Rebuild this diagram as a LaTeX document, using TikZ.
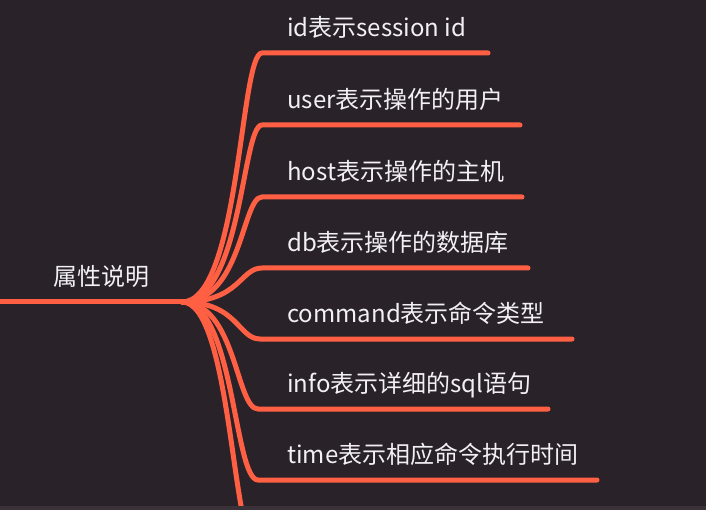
\documentclass[tikz,border=0pt]{standalone}
\usepackage{fontspec}
\setmainfont{Noto Sans CJK SC}
\definecolor{bgcol}{HTML}{2A2229}
\definecolor{linecol}{HTML}{FF6043}
\definecolor{txtcol}{HTML}{F2F0F2}
\definecolor{stripcol}{HTML}{3A3238}
\tikzset{
  branch/.style={draw=linecol, line width=5pt, line cap=round},
  lbl/.style={text=txtcol, font=\fontsize{24}{28}\selectfont, inner sep=0pt, anchor=base west},
}
\begin{document}
\begin{tikzpicture}[x=1pt,y=-1pt]
\fill[bgcol] (0,0) rectangle (706,510);
\useasboundingbox (0,0) rectangle (706,510);
\begin{scope}
\clip (0,0) rectangle (706,510);
% root
\node[lbl] (root) at (53,285.5) {属性说明};
\coordinate (start) at (-5,302);
\coordinate (hub) at (182,302);
% branch corners and ends
\coordinate (c1) at (262,53);  \coordinate (e1) at (488,53);
\coordinate (c2) at (262,125); \coordinate (e2) at (520,125);
\coordinate (c3) at (262,197); \coordinate (e3) at (522,197);
\coordinate (c4) at (262,268); \coordinate (e4) at (528,268);
\coordinate (c5) at (260,339); \coordinate (e5) at (572,339);
\coordinate (c6) at (258,409); \coordinate (e6) at (548,409);
\coordinate (c7) at (258,480); \coordinate (e7) at (597,480);
\coordinate (c8) at (258,551); \coordinate (e8) at (600,551);
% texts
\node[lbl] (t1) at (287,36.5)  {id表示session id};
\node[lbl] (t2) at (287,108.5) {user表示操作的用户};
\node[lbl] (t3) at (287,180.5) {host表示操作的主机};
\node[lbl] (t4) at (287,251.5) {db表示操作的数据库};
\node[lbl] (t5) at (287,322.5) {command表示命令类型};
\node[lbl] (t6) at (287,392.5) {info表示详细的sql语句};
\node[lbl] (t7) at (287,463.5) {time表示相应命令执行时间};
% connectors
\draw[branch] (start) -- (hub);
\draw[branch] (hub) .. controls (240,302) and (240,53)  .. (c1) -- (e1);
\draw[branch] (hub) .. controls (242,302) and (242,125) .. (c2) -- (e2);
\draw[branch] (hub) .. controls (242,302) and (242,197) .. (c3) -- (e3);
\draw[branch] (hub) .. controls (240,302) and (240,268) .. (c4) -- (e4);
\draw[branch] (hub) .. controls (238,302) and (238,339) .. (c5) -- (e5);
\draw[branch] (hub) .. controls (236,302) and (236,409) .. (c6) -- (e6);
\draw[branch] (hub) .. controls (234,302) and (234,480) .. (c7) -- (e7);
\draw[branch] (hub) .. controls (232,302) and (232,551) .. (c8) -- (e8);
% bottom strip
\fill[stripcol] (0,506) rectangle (706,512);
\end{scope}
\end{tikzpicture}
\end{document}
